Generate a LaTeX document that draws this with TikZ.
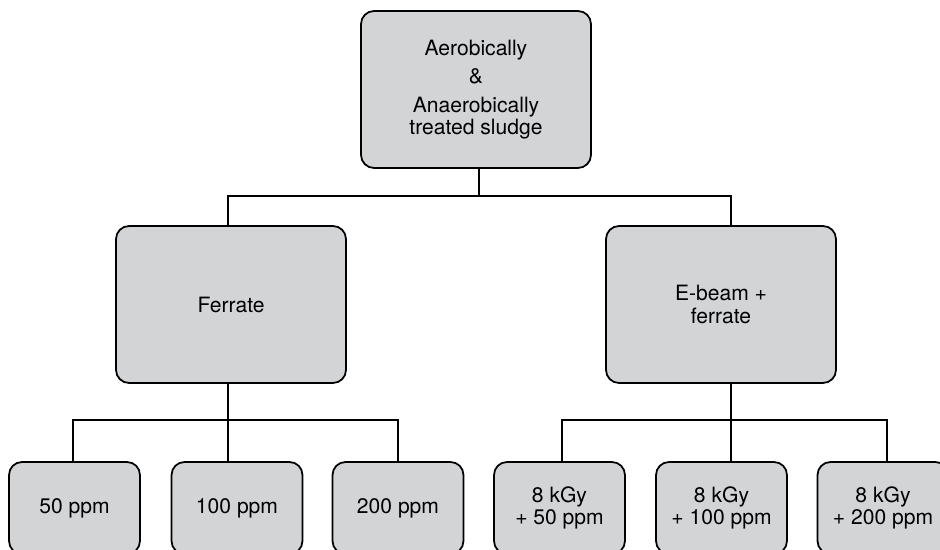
\documentclass[tikz,border=0pt]{standalone}
\usepackage{fontspec}
\setmainfont{TeX Gyre Heros}
\definecolor{boxgray}{RGB}{211,212,214}

\begin{document}
\begin{tikzpicture}[x=0.02cm, y=-0.02cm, every node/.style={font=\fontsize{12}{12.6}\selectfont},
  bloc/.style={draw, line width=1pt, rounded corners=0.26cm, fill=boxgray, align=center, inner sep=2pt},
  grand/.style={bloc, minimum width=4.6cm, minimum height=3.14cm},
  petit/.style={bloc, minimum width=2.62cm, minimum height=1.84cm}]
\useasboundingbox (0,0) rectangle (940,550);
\node[grand] (S) at (476,89.5) {Aerobically\\[3.5pt] \&\\[3.5pt] Anaerobically\\ treated sludge};
\node[grand] (F) at (231,304.5) {Ferrate};
\node[grand] (E) at (721,304.5) {E-beam +\\ ferrate};
\node[petit] (F1) at (74.5,508) {50 ppm};
\node[petit] (F2) at (237,508) {100 ppm};
\node[petit] (F3) at (398,508) {200 ppm};
\node[petit] (E1) at (559.5,508) {8 kGy\\ + 50 ppm};
\node[petit] (E2) at (721.5,508) {8 kGy\\ + 100 ppm};
\node[petit] (E3) at (883,508) {8 kGy\\ + 200 ppm};
% arbre
\draw[line width=0.8pt] ([xshift=0.06cm]S.south) -- ++(0,27) coordinate (jS);
\draw[line width=0.8pt] ([xshift=-0.06cm]F.north) |- (jS) -| ([xshift=0.2cm]E.north);
\draw[line width=0.8pt] ([xshift=-0.06cm]F.south) -- ++(0,36) coordinate (jF);
\draw[line width=0.8pt] ([xshift=-0.03cm]F1.north) |- (jF) -| (F3.north);
\draw[line width=0.8pt] (jF) -- (jF |- F2.north);
\draw[line width=0.8pt] ([xshift=0.2cm]E.south) -- ++(0,36) coordinate (jE);
\draw[line width=0.8pt] ([xshift=0.05cm]E1.north) |- (jE) -| ([xshift=0.08cm]E3.north);
\draw[line width=0.8pt] (jE) -- (jE |- E2.north);
\end{tikzpicture}
\end{document}
